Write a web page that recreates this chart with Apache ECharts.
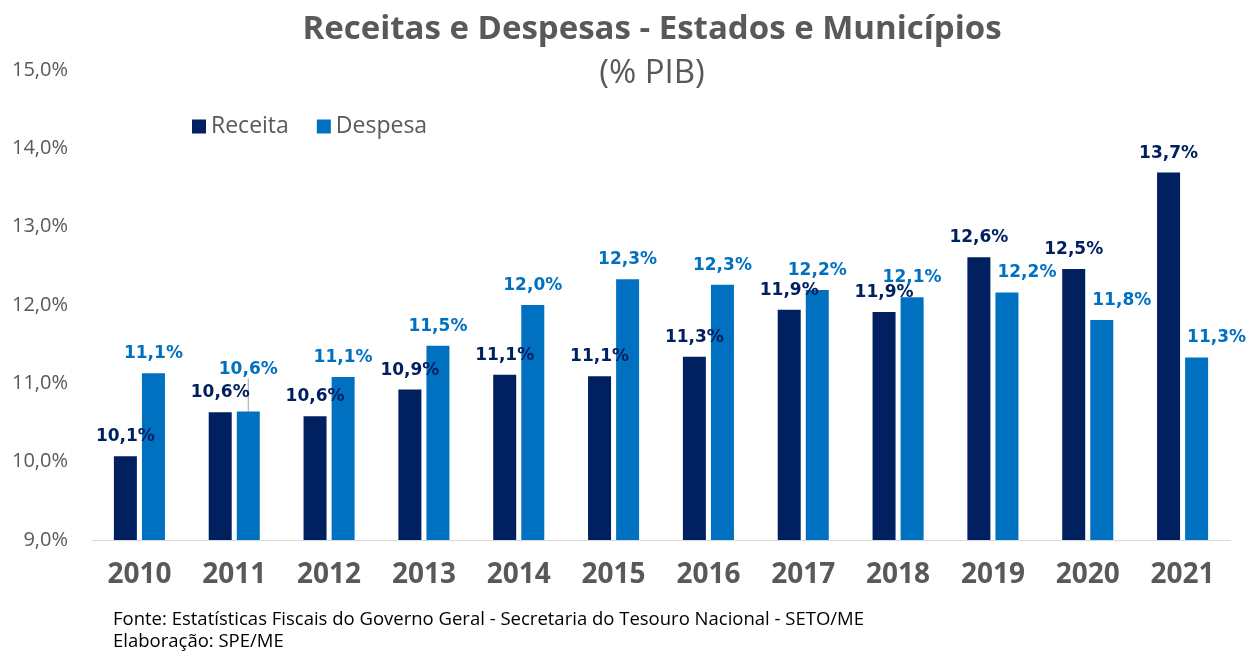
<!DOCTYPE html>
<html>
<head>
<meta charset="utf-8">
<script src="https://cdn.jsdelivr.net/npm/echarts@6/dist/echarts.min.js"></script>
<style>
  html, body { margin: 0; padding: 0; background: #fff; }
  #chart { width: 1246px; height: 651px; }
</style>
</head>
<body>
<div id="chart"></div>
<script>
const years = ['2010', '2011', '2012', '2013', '2014', '2015', '2016', '2017', '2018', '2019', '2020', '2021']
const receita = [10.07, 10.63, 10.58, 10.92, 11.11, 11.09, 11.34, 11.94, 11.91, 12.61, 12.46, 13.69]
const despesa = [11.13, 10.64, 11.08, 11.48, 12.0, 12.33, 12.26, 12.19, 12.1, 12.16, 11.81, 11.33]

const pct = v => v.toFixed(1).replace('.', ',') + '%'
const font = '"Open Sans", "Liberation Sans", sans-serif'
const labelFont = '"DejaVu Sans", Verdana, sans-serif'

// 2011 despesa label is lifted with a small guide line, as in the original
const despesaData = despesa.map((v, i) => i === 1
    ? { value: v, labelLine: { show: true, lineStyle: { color: '#a6a6a6', width: 1 } } }
    : v)

let chart = echarts.init(document.getElementById('chart'))
chart.setOption({
    animation: false,
    color: ['#002060', '#0070C0'],
    title: [
        {
            text: 'Receitas e Despesas - Estados e Municípios',
            left: 647,
            top: 8,
            textAlign: 'center',
            textStyle: { fontFamily: font, fontSize: 33, fontWeight: 'bold', color: '#595959' }
        },
        {
            text: '(% PIB)',
            left: 647,
            top: 52,
            textAlign: 'center',
            textStyle: { fontFamily: font, fontSize: 33, fontWeight: 'normal', color: '#595959' }
        }
    ],
    legend: {
        data: ['Receita', 'Despesa'],
        left: 187,
        top: 110,
        icon: 'rect',
        itemWidth: 14,
        itemHeight: 14,
        itemGap: 28,
        itemStyle: { borderWidth: 0 },
        textStyle: { fontFamily: font, fontSize: 23, color: '#595959' }
    },
    grid: {
        left: 92,
        right: 16,
        top: 70,
        bottom: 111
    },
    xAxis: {
        type: 'category',
        data: years,
        axisLine: { lineStyle: { color: '#d9d9d9', width: 1 } },
        axisTick: { show: false },
        axisLabel: {
            margin: 21,
            fontFamily: font,
            fontSize: 28,
            fontWeight: 'bold',
            color: '#595959'
        }
    },
    yAxis: {
        type: 'value',
        min: 9,
        max: 15,
        interval: 1,
        splitLine: { show: false },
        axisLine: { show: false },
        axisTick: { show: false },
        axisLabel: {
            margin: 24,
            fontFamily: font,
            fontSize: 20,
            color: '#595959',
            formatter: v => pct(v)
        }
    },
    series: [
        {
            name: 'Receita',
            type: 'bar',
            data: receita,
            barWidth: 23,
            barGap: '22%',
            label: {
                show: true,
                position: 'top',
                distance: 11,
                fontFamily: labelFont,
                fontSize: 17,
                fontWeight: 'bold',
                color: '#002060',
                formatter: p => pct(p.value)
            }
        },
        {
            name: 'Despesa',
            type: 'bar',
            data: despesaData,
            barWidth: 23,
            label: {
                show: true,
                position: 'top',
                distance: 11,
                fontFamily: labelFont,
                fontSize: 17,
                fontWeight: 'bold',
                color: '#0070C0',
                formatter: p => pct(p.value)
            },
            labelLayout: function (params) {
                if (params.dataIndex === 1) return { dy: -22 }
                if (params.dataIndex >= 9) return { dx: 20 }
                return {}
            }
        }
    ],
    graphic: [
        {
            type: 'text',
            left: 113,
            top: 610,
            style: {
                text: 'Fonte: Estatísticas Fiscais do Governo Geral - Secretaria do Tesouro Nacional - SETO/ME',
                fontFamily: font,
                fontSize: 18.5,
                fill: '#000'
            }
        },
        {
            type: 'text',
            left: 113,
            top: 632,
            style: {
                text: 'Elaboração: SPE/ME',
                fontFamily: font,
                fontSize: 18.5,
                fill: '#000'
            }
        }
    ]
})
</script>
</body>
</html>
